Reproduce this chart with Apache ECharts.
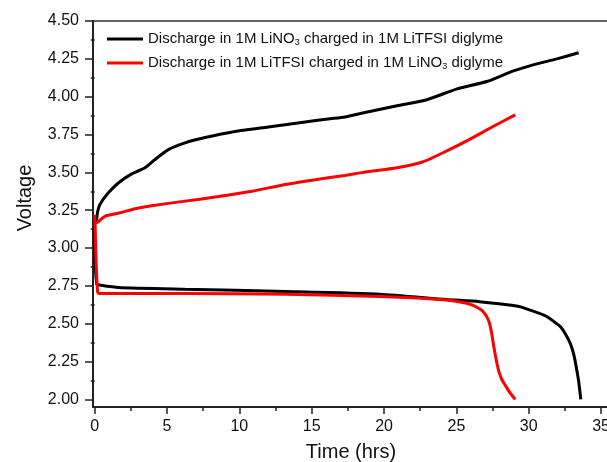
<!DOCTYPE html>
<html>
<head>
<meta charset="utf-8">
<script src="https://cdn.jsdelivr.net/npm/echarts@6/dist/echarts.min.js"></script>
<style>
  html, body { margin: 0; padding: 0; background: #fff; }
  #root { width: 607px; height: 462px; }
</style>
</head>
<body>
<div id="root"></div>
<script>
// values: [time (hrs), voltage]
var blackCharge = [
  [0.0, 3.19], [0.1, 3.17], [0.2, 3.24], [0.37, 3.29], [0.9, 3.36], [1.63, 3.43],
  [2.56, 3.49], [3.48, 3.53], [4.17, 3.585], [5.09, 3.65], [6.24, 3.695],
  [7.63, 3.73], [9.7, 3.77], [12.0, 3.80], [14.3, 3.83], [16.27, 3.854],
  [17.3, 3.866], [18.6, 3.894], [20.9, 3.94], [22.96, 3.98], [25.0, 4.05],
  [27.1, 4.10], [28.95, 4.17], [30.3, 4.21], [31.95, 4.25], [33.45, 4.29]
]
var blackDischarge = [
  [0.0, 3.20], [0.05, 2.87], [0.15, 2.76], [0.25, 2.757], [1.63, 2.74],
  [6.24, 2.728], [13.2, 2.713], [19.7, 2.695], [24.3, 2.66], [26.6, 2.646],
  [28.95, 2.62], [29.5, 2.61], [30.1, 2.59], [30.7, 2.57], [31.26, 2.547],
  [31.8, 2.51], [32.2, 2.48], [32.55, 2.43], [32.87, 2.37], [33.05, 2.32],
  [33.2, 2.26], [33.33, 2.19], [33.44, 2.128], [33.53, 2.06], [33.6, 2.0]
]
var redCharge = [
  [0.14, 3.165], [0.71, 3.21], [1.63, 3.23], [2.79, 3.26], [3.94, 3.28],
  [6.24, 3.31], [8.55, 3.34], [10.86, 3.375], [13.16, 3.42], [15.47, 3.455],
  [17.3, 3.48], [18.58, 3.50], [20.9, 3.53], [22.7, 3.57], [24.3, 3.64],
  [25.95, 3.72], [27.57, 3.805], [29.07, 3.88]
]
var redDischarge = [
  [0.0, 3.22], [0.1, 2.9], [0.2, 2.71], [0.3, 2.70], [1.63, 2.70],
  [6.24, 2.70], [13.2, 2.695], [19.7, 2.68], [24.3, 2.657], [25.7, 2.635],
  [26.2, 2.62], [26.65, 2.596], [26.9, 2.575], [27.1, 2.547], [27.3, 2.50],
  [27.45, 2.43], [27.55, 2.37], [27.68, 2.30], [27.8, 2.24], [27.95, 2.18],
  [28.15, 2.13], [28.37, 2.095], [28.7, 2.045], [29.07, 2.0]
]

var xMajor = [0, 5, 10, 15, 20, 25, 30, 35]
var xMinor = [2.5, 7.5, 12.5, 17.5, 22.5, 27.5, 32.5]
var yMajor = [2.0, 2.25, 2.5, 2.75, 3.0, 3.25, 3.5, 3.75, 4.0, 4.25, 4.5]
var yMinor = [2.125, 2.375, 2.625, 2.875, 3.125, 3.375, 3.625, 3.875, 4.125, 4.375]

var nameBlack = 'Discharge in 1M LiNO3 charged in 1M LiTFSI diglyme'
var nameRed = 'Discharge in 1M LiTFSI charged in 1M LiNO3 diglyme'

var font = 'Liberation Sans, Arial, sans-serif'
var axisColor = '#222'

var chart = echarts.init(document.getElementById('root'))

var option = {
  animation: false,
  textStyle: { fontFamily: font },
  grid: {
    left: 93, right: -2, top: 21, bottom: 55,
    outerBoundsMode: 'none',
    show: true, borderColor: '#333', borderWidth: 1.5
  },
  legend: {
    orient: 'vertical',
    left: 102, top: 26,
    itemWidth: 36, itemHeight: 3, itemGap: 8,
    icon: 'rect',
    data: [nameBlack, nameRed],
    textStyle: {
      fontFamily: font, fontSize: 15, color: '#111',
      rich: {
        n: { fontFamily: font, fontSize: 15, color: '#111', lineHeight: 16 },
        s: { fontFamily: font, fontSize: 9, color: '#111', lineHeight: 10, padding: [7, 0, 0, 0] }
      }
    },
    formatter: function (name) {
      var parts = name.split('LiNO3')
      return '{n|' + parts[0] + 'LiNO}{s|3}{n|' + parts[1] + '}'
    }
  },
  xAxis: [{
    type: 'value', min: -0.118, max: 35.55, position: 'bottom',
    name: 'Time (hrs)', nameLocation: 'middle', nameGap: 35,
    nameTextStyle: { fontFamily: font, fontSize: 20, color: '#111' },
    axisLine: { show: true, onZero: false, lineStyle: { color: axisColor, width: 2 } },
    axisTick: { show: true, customValues: xMajor, length: 7, lineStyle: { color: axisColor, width: 1.5 } },
    axisLabel: { customValues: xMajor, margin: 12, fontSize: 16, color: '#111', fontFamily: font },
    splitLine: { show: false }
  }, {
    type: 'value', min: -0.118, max: 35.55, position: 'bottom',
    axisLine: { show: false },
    axisTick: { show: true, customValues: xMinor, length: 4, lineStyle: { color: axisColor, width: 1.5 } },
    axisLabel: { show: false },
    splitLine: { show: false }
  }],
  yAxis: [{
    type: 'value', min: 1.95, max: 4.5, position: 'left',
    name: 'Voltage', nameLocation: 'middle', nameGap: 58,
    nameTextStyle: { fontFamily: font, fontSize: 20, color: '#111', padding: [0, 0, 0, 32] },
    axisLine: { show: true, onZero: false, lineStyle: { color: axisColor, width: 2 } },
    axisTick: { show: true, customValues: yMajor, length: 8, lineStyle: { color: axisColor, width: 1.5 } },
    axisLabel: {
      customValues: yMajor, margin: 14, fontSize: 16, color: '#111', fontFamily: font,
      formatter: function (v) { return v.toFixed(2) }
    },
    splitLine: { show: false }
  }, {
    type: 'value', min: 1.95, max: 4.5, position: 'left',
    axisLine: { show: false },
    axisTick: { show: true, customValues: yMinor, length: 4, lineStyle: { color: axisColor, width: 1.5 } },
    axisLabel: { show: false },
    splitLine: { show: false }
  }],
  series: [{
    name: nameBlack, type: 'line', data: blackCharge, showSymbol: false, smooth: 0.2,
    lineStyle: { color: '#000', width: 3 }, itemStyle: { color: '#000' }
  }, {
    name: nameBlack, type: 'line', data: blackDischarge, showSymbol: false, smooth: 0.2,
    lineStyle: { color: '#000', width: 3 }, itemStyle: { color: '#000' }
  }, {
    name: nameRed, type: 'line', data: redCharge, showSymbol: false, smooth: 0.2,
    lineStyle: { color: '#ff0000', width: 3 }, itemStyle: { color: '#ff0000' }
  }, {
    name: nameRed, type: 'line', data: redDischarge, showSymbol: false, smooth: 0.2,
    lineStyle: { color: '#ff0000', width: 3 }, itemStyle: { color: '#ff0000' }
  }]
}

chart.setOption(option)
</script>
</body>
</html>
